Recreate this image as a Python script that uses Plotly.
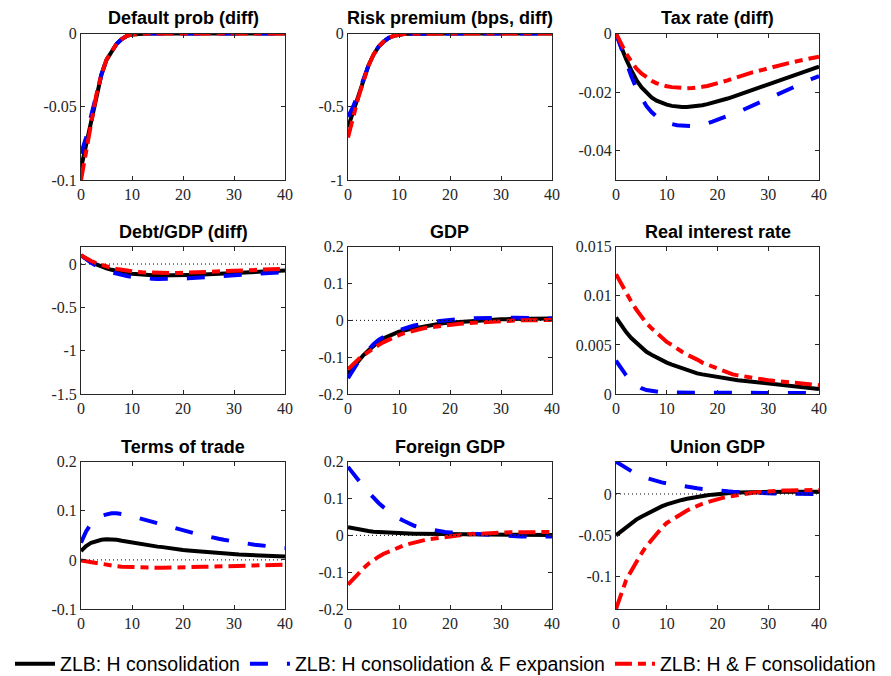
import plotly.graph_objects as go

# ---------------- data ----------------
periods = list(range(41))

series_names = ["ZLB: H consolidation",
                "ZLB: H consolidation & F expansion",
                "ZLB: H & F consolidation"]

panel_titles = ["Default prob (diff)", "Risk premium (bps, diff)", "Tax rate (diff)",
                "Debt/GDP (diff)", "GDP", "Real interest rate",
                "Terms of trade", "Foreign GDP", "Union GDP"]

# Default prob (diff)
default_h = [-0.092, -0.076, -0.058, -0.042, -0.028, -0.018, -0.012, -0.007, -0.0038, -0.0016,
             -0.0007, -0.0003, -0.0001, 0, 0, 0, 0, 0, 0, 0, 0, 0, 0, 0, 0, 0, 0, 0, 0, 0,
             0, 0, 0, 0, 0, 0, 0, 0, 0, 0, 0]
default_hf = [-0.082, -0.071, -0.056, -0.041, -0.028, -0.018, -0.012, -0.007, -0.0038, -0.0017,
              -0.0008, -0.0003, -0.0001, 0, 0, 0, 0, 0, 0, 0, 0, 0, 0, 0, 0, 0, 0, 0, 0, 0,
              0, 0, 0, 0, 0, 0, 0, 0, 0, 0, 0]
default_both = [-0.100, -0.080, -0.060, -0.042, -0.028, -0.018, -0.012, -0.007, -0.0038, -0.0016,
                -0.0007, -0.0003, -0.0001, 0, 0, 0, 0, 0, 0, 0, 0, 0, 0, 0, 0, 0, 0, 0, 0, 0,
                0, 0, 0, 0, 0, 0, 0, 0, 0, 0, 0]

# Risk premium (bps, diff)
risk_h = [-0.64, -0.54, -0.43, -0.32, -0.22, -0.145, -0.09, -0.055, -0.03, -0.016,
          -0.008, -0.004, -0.002, -0.001, 0, 0, 0, 0, 0, 0, 0, 0, 0, 0, 0, 0, 0, 0, 0, 0,
          0, 0, 0, 0, 0, 0, 0, 0, 0, 0, 0]
risk_hf = [-0.57, -0.50, -0.41, -0.31, -0.22, -0.145, -0.09, -0.055, -0.03, -0.016,
           -0.008, -0.004, -0.002, -0.001, 0, 0, 0, 0, 0, 0, 0, 0, 0, 0, 0, 0, 0, 0, 0, 0,
           0, 0, 0, 0, 0, 0, 0, 0, 0, 0, 0]
risk_both = [-0.71, -0.57, -0.44, -0.33, -0.22, -0.145, -0.09, -0.055, -0.03, -0.016,
             -0.008, -0.004, -0.002, -0.001, 0, 0, 0, 0, 0, 0, 0, 0, 0, 0, 0, 0, 0, 0, 0, 0,
             0, 0, 0, 0, 0, 0, 0, 0, 0, 0, 0]

# Tax rate (diff)
tax_h = [0, -0.0045, -0.0088, -0.0125, -0.0158, -0.0183, -0.0203, -0.0218, -0.0229, -0.0237,
         -0.0243, -0.0247, -0.0250, -0.0251, -0.0251, -0.0250, -0.0248, -0.0245, -0.0241, -0.0237,
         -0.0232, -0.0227, -0.0222, -0.0216, -0.0210, -0.0204, -0.0198, -0.0192, -0.0186, -0.0180,
         -0.0172, -0.0166, -0.0160, -0.0154, -0.0148, -0.0142, -0.0136, -0.0130, -0.0124, -0.0119,
         -0.0113]
tax_hf = [0, -0.0050, -0.0098, -0.0145, -0.0187, -0.0220, -0.0248, -0.0268, -0.0284, -0.0295,
          -0.0303, -0.0309, -0.0313, -0.0315, -0.0316, -0.0316, -0.0314, -0.0311, -0.0307, -0.0301,
          -0.0295, -0.0289, -0.0282, -0.0275, -0.0268, -0.0261, -0.0253, -0.0245, -0.0237, -0.0229,
          -0.0221, -0.0213, -0.0205, -0.0197, -0.0189, -0.0181, -0.0174, -0.0167, -0.0159, -0.0152,
          -0.0145]
tax_both = [0, -0.0036, -0.0068, -0.0095, -0.0119, -0.0136, -0.0150, -0.0161, -0.0170, -0.0176,
            -0.0180, -0.0183, -0.0185, -0.0186, -0.0187, -0.0186, -0.0185, -0.0182, -0.0179, -0.0175,
            -0.0170, -0.0165, -0.0160, -0.0154, -0.0148, -0.0142, -0.0137, -0.0132, -0.0128, -0.0123,
            -0.0119, -0.0114, -0.0110, -0.0105, -0.0101, -0.0097, -0.0093, -0.0090, -0.0086, -0.0083,
            -0.0079]

# Debt/GDP (diff)
debt_h = [0.10, 0.06, 0.025, -0.005, -0.03, -0.05, -0.067, -0.081, -0.093, -0.103,
          -0.111, -0.118, -0.123, -0.127, -0.130, -0.132, -0.133, -0.133, -0.133, -0.132,
          -0.130, -0.128, -0.126, -0.123, -0.121, -0.118, -0.115, -0.112, -0.109, -0.106,
          -0.103, -0.100, -0.097, -0.094, -0.091, -0.088, -0.085, -0.083, -0.080, -0.078,
          -0.076]
debt_hf = [0.10, 0.055, 0.015, -0.02, -0.05, -0.075, -0.095, -0.112, -0.126, -0.138,
           -0.148, -0.156, -0.162, -0.167, -0.170, -0.172, -0.173, -0.173, -0.172, -0.170,
           -0.168, -0.165, -0.162, -0.158, -0.154, -0.150, -0.146, -0.142, -0.138, -0.134,
           -0.130, -0.126, -0.122, -0.118, -0.114, -0.111, -0.107, -0.104, -0.101, -0.098,
           -0.095]
debt_both = [0.10, 0.065, 0.035, 0.01, -0.012, -0.03, -0.045, -0.058, -0.069, -0.078,
             -0.085, -0.091, -0.096, -0.099, -0.102, -0.104, -0.105, -0.105, -0.105, -0.104,
             -0.102, -0.100, -0.098, -0.096, -0.093, -0.090, -0.088, -0.085, -0.082, -0.079,
             -0.076, -0.074, -0.071, -0.069, -0.066, -0.064, -0.062, -0.060, -0.058, -0.056,
             -0.054]

# GDP
gdp_h = [-0.145, -0.127, -0.110, -0.095, -0.082, -0.069, -0.058, -0.049, -0.042, -0.036,
         -0.031, -0.028, -0.024, -0.021, -0.019, -0.016, -0.014, -0.011, -0.009, -0.007,
         -0.006, -0.004, -0.003, -0.002, -0.001, 0.000, 0.001, 0.0015, 0.002, 0.0025,
         0.003, 0.0033, 0.0036, 0.004, 0.0042, 0.0044, 0.0046, 0.0048, 0.0049, 0.005,
         0.005]
gdp_hf = [-0.157, -0.134, -0.113, -0.095, -0.079, -0.065, -0.053, -0.044, -0.037, -0.031,
          -0.026, -0.022, -0.018, -0.014, -0.011, -0.008, -0.006, -0.004, -0.002, 0.000,
          0.002, 0.003, 0.004, 0.005, 0.0055, 0.006, 0.0065, 0.007, 0.007, 0.007,
          0.007, 0.007, 0.007, 0.007, 0.0068, 0.0065, 0.0062, 0.006, 0.0057, 0.0055,
          0.005]
gdp_both = [-0.133, -0.119, -0.106, -0.095, -0.085, -0.075, -0.067, -0.059, -0.052, -0.046,
            -0.040, -0.035, -0.031, -0.027, -0.024, -0.021, -0.019, -0.017, -0.015, -0.013,
            -0.011, -0.010, -0.009, -0.008, -0.007, -0.006, -0.005, -0.004, -0.0035, -0.003,
            -0.002, -0.0015, -0.001, -0.0005, 0.0, 0.0003, 0.0006, 0.0008, 0.001, 0.001,
            0.001]

# Real interest rate
rate_h = [0.0078, 0.0070, 0.0063, 0.0057, 0.0052, 0.0047, 0.0043, 0.0040, 0.0037, 0.0034,
          0.0032, 0.0030, 0.0028, 0.0026, 0.0024, 0.0023, 0.0021, 0.0020, 0.0019, 0.0018,
          0.0017, 0.0016, 0.0015, 0.00145, 0.0014, 0.00135, 0.0013, 0.00122, 0.00115, 0.00108,
          0.0010, 0.00096, 0.00092, 0.00087, 0.00082, 0.00077, 0.00072, 0.00067, 0.00062, 0.00057,
          0.00052]
rate_hf = [0.0034, 0.0026, 0.0019, 0.0013, 0.0009, 0.0006, 0.0004, 0.0003, 0.00022, 0.00018,
           0.00015, 0.00014, 0.00013, 0.00012, 0.00012, 0.00012, 0.00012, 0.00012, 0.00012, 0.00012,
           0.00012, 0.00012, 0.00012, 0.00012, 0.00012, 0.00011, 0.00011, 0.00011, 0.00011, 0.00011,
           0.00011, 0.00011, 0.0001, 0.0001, 0.0001, 0.0001, 0.0001, 0.0001, 0.0001, 0.0001,
           0.0001]
rate_both = [0.0122, 0.0112, 0.0103, 0.0094, 0.0086, 0.0079, 0.0072, 0.0067, 0.0062, 0.0057,
             0.0053, 0.0050, 0.0046, 0.0043, 0.0040, 0.0038, 0.0035, 0.0032, 0.0030, 0.0027,
             0.0025, 0.0023, 0.0022, 0.0020, 0.0019, 0.0018, 0.0017, 0.0016, 0.0015, 0.00145,
             0.0014, 0.00135, 0.0013, 0.00125, 0.0012, 0.00115, 0.0011, 0.00105, 0.0010, 0.00095,
             0.0009]

# Terms of trade
tot_h = [0.018, 0.028, 0.035, 0.039, 0.041, 0.042, 0.042, 0.041, 0.039, 0.037,
         0.035, 0.033, 0.032, 0.030, 0.029, 0.027, 0.026, 0.024, 0.023, 0.021,
         0.020, 0.019, 0.018, 0.017, 0.016, 0.015, 0.0143, 0.0135, 0.0128, 0.0121,
         0.0115, 0.011, 0.0105, 0.010, 0.0095, 0.009, 0.0085, 0.008, 0.0076, 0.0072,
         0.0068]
tot_hf = [0.035, 0.058, 0.074, 0.084, 0.090, 0.093, 0.095, 0.095, 0.094, 0.092,
          0.089, 0.086, 0.083, 0.080, 0.077, 0.074, 0.071, 0.068, 0.065, 0.063,
          0.060, 0.057, 0.055, 0.052, 0.050, 0.047, 0.045, 0.043, 0.041, 0.039,
          0.037, 0.0355, 0.034, 0.0325, 0.031, 0.030, 0.0288, 0.0275, 0.0262, 0.025,
          0.024]
tot_both = [-0.001, -0.003, -0.005, -0.007, -0.009, -0.010, -0.012, -0.013, -0.014, -0.0145,
            -0.015, -0.0155, -0.016, -0.016, -0.016, -0.016, -0.016, -0.016, -0.0155, -0.0152,
            -0.015, -0.0148, -0.0145, -0.0142, -0.014, -0.0137, -0.0134, -0.0131, -0.0128, -0.0125,
            -0.0122, -0.012, -0.0117, -0.0114, -0.0111, -0.0108, -0.0106, -0.0104, -0.0102, -0.010,
            -0.0098]

# Foreign GDP
fgdp_h = [0.022, 0.019, 0.016, 0.014, 0.012, 0.010, 0.009, 0.008, 0.007, 0.0065,
          0.006, 0.0055, 0.005, 0.0046, 0.0043, 0.004, 0.0037, 0.0034, 0.0032, 0.003,
          0.003, 0.0029, 0.0028, 0.0027, 0.0026, 0.0025, 0.0024, 0.0023, 0.0021, 0.002,
          0.0018, 0.0017, 0.0016, 0.0015, 0.0014, 0.0013, 0.0012, 0.0012, 0.0011, 0.0011,
          0.001]
fgdp_hf = [0.186, 0.167, 0.150, 0.133, 0.117, 0.101, 0.088, 0.076, 0.065, 0.055,
           0.046, 0.039, 0.032, 0.026, 0.022, 0.019, 0.016, 0.013, 0.011, 0.009,
           0.008, 0.007, 0.006, 0.005, 0.004, 0.003, 0.002, 0.0012, 0.0005, -0.0003,
           -0.001, -0.0015, -0.002, -0.0025, -0.0028, -0.003, -0.003, -0.003, -0.003, -0.003,
           -0.003]
fgdp_both = [-0.134, -0.118, -0.104, -0.090, -0.077, -0.066, -0.058, -0.050, -0.044, -0.038,
             -0.032, -0.027, -0.023, -0.019, -0.016, -0.013, -0.010, -0.008, -0.006, -0.004,
             -0.002, -0.001, 0.0005, 0.002, 0.003, 0.004, 0.0048, 0.0055, 0.006, 0.007,
             0.0075, 0.008, 0.0082, 0.0085, 0.0087, 0.0088, 0.0089, 0.009, 0.009, 0.009,
             0.009]

# Union GDP
ugdp_h = [-0.050, -0.045, -0.040, -0.035, -0.031, -0.0274, -0.024, -0.021, -0.018, -0.015,
          -0.0125, -0.0105, -0.0088, -0.0072, -0.0058, -0.0045, -0.0035, -0.0025, -0.0016, -0.0008,
          0.0, 0.0005, 0.001, 0.0014, 0.0018, 0.002, 0.0022, 0.0024, 0.0026, 0.0027,
          0.0028, 0.0028, 0.0028, 0.0028, 0.0028, 0.0028, 0.0028, 0.0028, 0.0028, 0.0028,
          0.0028]
ugdp_hf = [0.039, 0.035, 0.031, 0.027, 0.024, 0.021, 0.019, 0.017, 0.015, 0.014,
           0.0129, 0.0117, 0.0105, 0.0094, 0.0085, 0.0077, 0.0069, 0.0061, 0.0053, 0.0046,
           0.004, 0.0036, 0.0032, 0.0028, 0.0024, 0.002, 0.0017, 0.0014, 0.0012, 0.001,
           0.0008, 0.0007, 0.0006, 0.0005, 0.0004, 0.0003, 0.0002, 0.0001, 0.0, -0.0001,
           -0.0001]
ugdp_both = [-0.139, -0.121, -0.104, -0.093, -0.082, -0.072, -0.063, -0.055, -0.048, -0.041,
             -0.035, -0.031, -0.027, -0.023, -0.020, -0.017, -0.014, -0.012, -0.010, -0.008,
             -0.006, -0.0047, -0.0034, -0.0022, -0.001, -0.0002, 0.0007, 0.0015, 0.0022, 0.0028,
             0.0032, 0.0036, 0.0039, 0.0041, 0.0043, 0.0045, 0.0046, 0.0047, 0.0048, 0.0048,
             0.0048]

panel_series = [
    (default_h, default_hf, default_both),
    (risk_h, risk_hf, risk_both),
    (tax_h, tax_hf, tax_both),
    (debt_h, debt_hf, debt_both),
    (gdp_h, gdp_hf, gdp_both),
    (rate_h, rate_hf, rate_both),
    (tot_h, tot_hf, tot_both),
    (fgdp_h, fgdp_hf, fgdp_both),
    (ugdp_h, ugdp_hf, ugdp_both),
]

y_ranges = [(-0.1, 0), (-1, 0), (-0.05, 0), (-1.5, 0.2), (-0.2, 0.2),
            (0, 0.015), (-0.1, 0.2), (-0.2, 0.2), (-0.139, 0.039)]
y_ticks = [[-0.1, -0.05, 0], [-1, -0.5, 0], [-0.04, -0.02, 0], [-1.5, -1, -0.5, 0],
           [-0.2, -0.1, 0, 0.1, 0.2], [0, 0.005, 0.01, 0.015], [-0.1, 0, 0.1, 0.2],
           [-0.2, -0.1, 0, 0.1, 0.2], [-0.1, -0.05, 0]]
y_ticktext = [["-0.1", "-0.05", "0"], ["-1", "-0.5", "0"], ["-0.04", "-0.02", "0"],
              ["-1.5", "-1", "-0.5", "0"], ["-0.2", "-0.1", "0", "0.1", "0.2"],
              ["0", "0.005", "0.01", "0.015"], ["-0.1", "0", "0.1", "0.2"],
              ["-0.2", "-0.1", "0", "0.1", "0.2"], ["-0.1", "-0.05", "0"]]
x_ticks = [0, 10, 20, 30, 40]
zero_line_panels = [3, 4, 6, 7, 8]

# ---------------- layout / styling ----------------
# the page body has an 8px margin, so the figure is placed 8px in from the window corner
OFF = 8
W, H = 891 - OFF, 676 - OFF
col_px = [(81 - OFF, 285 - OFF), (348 - OFF, 552 - OFF), (616 - OFF, 819 - OFF)]
row_px = [(33.5 - OFF, 180 - OFF), (246.7 - OFF, 394 - OFF), (461.7 - OFF, 609 - OFF)]
legend_y_px = 664 - OFF

colors = ["#000000", "#0000ff", "#ff0000"]
dashes = ["solid", "18px,19px", "17px,6px,8px,6px"]
widths = [4, 4, 4]

axis_color = "#262626"
tick_font = dict(family="'Liberation Serif', 'Times New Roman', Times, serif", size=16, color=axis_color)

fig = go.Figure()
layout = dict(
    template="none",
    width=W, height=H,
    margin=dict(l=0, r=0, t=0, b=0, pad=0, autoexpand=False),
    paper_bgcolor="white", plot_bgcolor="white",
    showlegend=True,
    legend=dict(orientation="h", x=0.5 - 4 / W, xanchor="center", y=1 - legend_y_px / H,
                yanchor="middle", itemwidth=40,
                font=dict(family="'Liberation Sans', Arial, sans-serif", size=19.5, color="#000000"),
                bgcolor="rgba(0,0,0,0)", tracegroupgap=0),
)
annotations = []

for i in range(9):
    r, c = divmod(i, 3)
    n = i + 1
    xa = "xaxis" if n == 1 else f"xaxis{n}"
    ya = "yaxis" if n == 1 else f"yaxis{n}"
    xref = "x" if n == 1 else f"x{n}"
    yref = "y" if n == 1 else f"y{n}"
    x0, x1 = col_px[c]
    yt, yb = row_px[r]
    layout[xa] = dict(domain=[x0 / W, x1 / W], anchor=yref, range=[0, 40], automargin=False,
                      tickvals=x_ticks, ticks="inside", ticklen=4, tickcolor=axis_color,
                      showline=True, linecolor=axis_color, linewidth=1, mirror="allticks",
                      showgrid=False, zeroline=False, tickfont=tick_font)
    layout[ya] = dict(domain=[1 - yb / H, 1 - yt / H], anchor=xref, range=list(y_ranges[i]),
                      automargin=False, tickvals=y_ticks[i], ticktext=y_ticktext[i],
                      ticks="inside", ticklen=4, tickcolor=axis_color,
                      showline=True, linecolor=axis_color, linewidth=1, mirror="allticks",
                      showgrid=False, zeroline=False, tickfont=tick_font)
    for k in range(3):
        fig.add_trace(go.Scatter(
            x=periods, y=panel_series[i][k], mode="lines",
            line=dict(color=colors[k], width=widths[k], dash=dashes[k]),
            name=series_names[k], legendgroup=series_names[k],
            showlegend=(i == 0), xaxis=xref, yaxis=yref, hoverinfo="skip"))
    if i in zero_line_panels:
        fig.add_trace(go.Scatter(
            x=[0, 40], y=[0, 0], mode="lines",
            line=dict(color="#000000", width=1, dash="1px,3px"),
            showlegend=False, xaxis=xref, yaxis=yref, hoverinfo="skip"))
    annotations.append(dict(
        text="<b>" + panel_titles[i] + "</b>", xref="paper", yref="paper",
        x=(x0 + x1) / 2 / W, y=1 - (yt - 3) / H, xanchor="center", yanchor="bottom",
        showarrow=False,
        font=dict(family="'Liberation Sans', Arial, sans-serif", size=18, color="#000000")))

layout["annotations"] = annotations
fig.update_layout(**layout)
fig.write_html("out.html")
